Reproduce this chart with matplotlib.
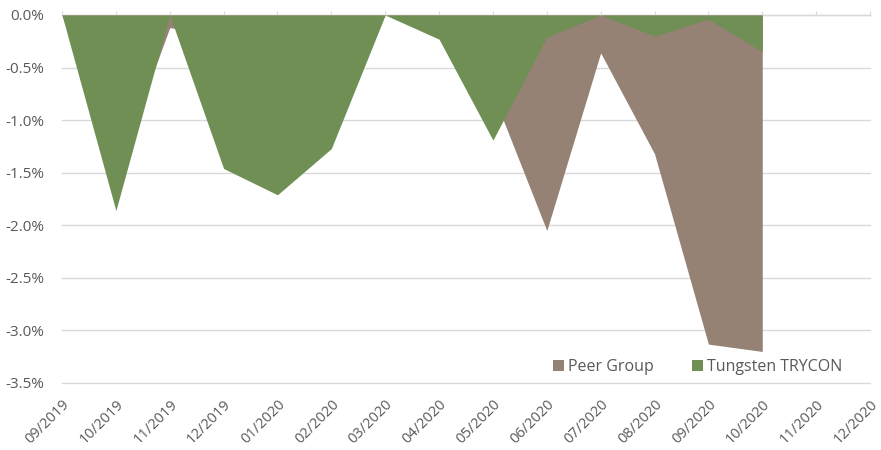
import matplotlib.pyplot as plt
from matplotlib.ticker import FuncFormatter

# --- Datos (drawdown mensual, %) ---
months = ['09/2019', '10/2019', '11/2019', '12/2019', '01/2020', '02/2020',
          '03/2020', '04/2020', '05/2020', '06/2020', '07/2020', '08/2020',
          '09/2020', '10/2020', '11/2020', '12/2020']
peer_group = [0.0, -1.52, -0.12, -0.2, -0.6, -0.5, 0.0, -0.1, -0.75,
              -2.05, -0.36, -1.32, -3.13, -3.2]
tungsten = [0.0, -1.86, 0.0, -1.46, -1.71, -1.27, 0.0, -0.23, -1.19,
            -0.21, 0.0, -0.2, -0.04, -0.35]

COLOR_PEER = '#968274'
COLOR_TUNG = '#6F8F54'
TEXT_COLOR = '#595959'
GRID_COLOR = '#D9D9D9'

plt.rcParams['font.family'] = ['Open Sans', 'DejaVu Sans']

fig = plt.figure(figsize=(8.81, 4.5), dpi=100)
ax = fig.add_axes([62 / 881, (450 - 383) / 450, (870 - 62) / 881, (383 - 15) / 450])

x_peer = list(range(len(peer_group)))
x_tung = list(range(len(tungsten)))

ax.fill_between(x_peer, peer_group, 0, color=COLOR_PEER, linewidth=0,
                label='Peer Group', zorder=2)
ax.fill_between(x_tung, tungsten, 0, color=COLOR_TUNG, linewidth=0,
                label='Tungsten TRYCON', zorder=3)

ax.set_xlim(0, len(months) - 1)
ax.set_ylim(-3.5, 0)

ax.set_yticks([-3.5, -3.0, -2.5, -2.0, -1.5, -1.0, -0.5, 0.0])
ax.yaxis.set_major_formatter(FuncFormatter(lambda v, p: f'{v:.1f}%'))
ax.set_xticks(range(len(months)))
ax.set_xticklabels(months, rotation=45, ha='right', rotation_mode='anchor')

ax.grid(axis='y', color=GRID_COLOR, linewidth=1, zorder=0, clip_on=False)
ax.set_axisbelow(True)

for side in ['left', 'right', 'bottom']:
    ax.spines[side].set_visible(False)
ax.spines['top'].set_color(GRID_COLOR)
ax.spines['top'].set_linewidth(1)
ax.spines['top'].set_zorder(1)

ax.tick_params(axis='y', length=0, labelsize=11, labelcolor=TEXT_COLOR, pad=13)
ax.tick_params(axis='x', bottom=False, top=True, labelbottom=True, labeltop=False,
               direction='out', length=3, color=GRID_COLOR,
               labelsize=10.5, labelcolor=TEXT_COLOR, pad=7)

leg = ax.legend(loc='center', bbox_to_anchor=(0.787, 0.0435), ncol=2, frameon=False,
                handlelength=0.7, handleheight=0.7, handletextpad=0.25,
                columnspacing=2.4, fontsize=11.5, borderpad=0)
for t in leg.get_texts():
    t.set_color(TEXT_COLOR)

plt.savefig('out.png', dpi=100)
